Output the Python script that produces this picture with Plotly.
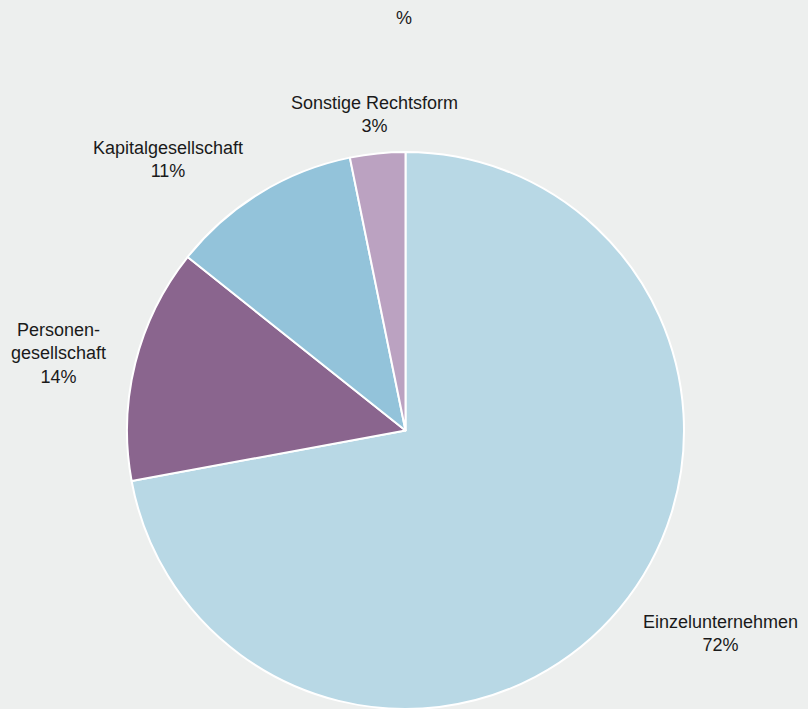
import math
import plotly.graph_objects as go

categories = ["Einzelunternehmen", "Personengesellschaft", "Kapitalgesellschaft", "Sonstige Rechtsform"]
label_text = ["Einzelunternehmen", "Personen-<br>gesellschaft", "Kapitalgesellschaft", "Sonstige Rechtsform"]
values = [72.1, 13.6, 11.1, 3.2]
colors = ["#b8d8e5", "#8a658e", "#93c3da", "#bba2c1"]

W, H = 808, 709
cx, cy, r = 405.5, 430.5, 278.5  # pie geometry in pixels
FONT = "Liberation Sans, Arial, Helvetica, sans-serif"

fig = go.Figure(go.Pie(
    labels=categories,
    values=values,
    sort=False,
    direction="clockwise",
    rotation=0,
    marker=dict(colors=colors, line=dict(color="white", width=2)),
    textinfo="none",
    hoverinfo="label+percent",
    domain=dict(x=[(cx - r) / W, (cx + r) / W], y=[(H - cy - r) / H, (H - cy + r) / H]),
    showlegend=False,
))

total = sum(values)
cum = 0.0
annotations = []
for lab, v in zip(label_text, values):
    mid = (cum + v / 2) / total * 2 * math.pi
    cum += v
    s, c = math.sin(mid), math.cos(mid)
    px = cx + r * 1.10 * s
    py = cy - r * 1.14 * c
    if s > 0.2:
        xa = "left"
    elif s < -0.2:
        xa = "right"
    else:
        xa = "center"
    annotations.append(dict(
        x=px / W, y=1 - py / H, xref="paper", yref="paper",
        text=f"{lab}<br>{round(v)}%", showarrow=False,
        xanchor=xa, yanchor="middle", align="center",
        font=dict(size=18, color="#1a1a1a", family=FONT),
    ))

annotations.append(dict(
    x=0.5, y=1 - 18 / H, xref="paper", yref="paper", text="%", showarrow=False,
    xanchor="center", yanchor="middle",
    font=dict(size=18, color="#1a1a1a", family=FONT),
))

fig.update_layout(
    width=W, height=H,
    margin=dict(l=0, r=0, t=0, b=0),
    paper_bgcolor="#edefee",
    plot_bgcolor="#edefee",
    annotations=annotations,
    font=dict(family=FONT),
)

fig.write_html("out.html")
